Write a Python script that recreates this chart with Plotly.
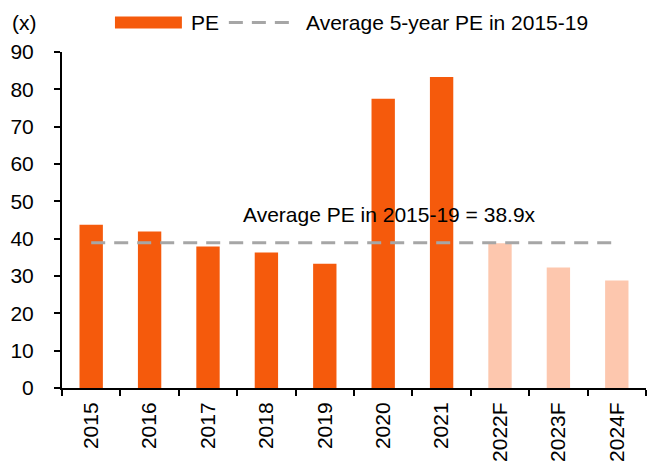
import plotly.graph_objects as go

years = ["2015", "2016", "2017", "2018", "2019", "2020", "2021", "2022F", "2023F", "2024F"]
pe = [43.7, 41.9, 37.9, 36.3, 33.3, 77.5, 83.3, 38.8, 32.3, 28.8]
is_forecast = [False] * 7 + [True] * 3
avg_pe = 38.9
avg_label = "Average PE in 2015-19 = 38.9x"

ORANGE = "#F55A0C"
PEACH = "#FDC7AE"
GREY = "#A6A6A6"
FONT = "Liberation Sans, Arial, sans-serif"
FS = 21

OFF = 8  # page body margin
W, H = 661 - OFF, 461 - OFF
ML, MR, MT, MB = 62 - OFF, 14.5, 51.5 - OFF, 73.3
PW, PH = W - ML - MR, H - MT - MB


def px(x):
    return (x - OFF - ML) / PW


def py(y):
    return 1 - (y - OFF - MT) / PH


fig = go.Figure()
fig.add_trace(go.Bar(
    x=years, y=pe,
    marker=dict(color=[PEACH if f else ORANGE for f in is_forecast], line=dict(width=0)),
    width=0.4, showlegend=False, hoverinfo="x+y",
))
fig.add_trace(go.Scatter(
    x=years, y=[avg_pe] * len(years), mode="lines",
    line=dict(color=GREY, width=3, dash="14px,9px"),
    showlegend=False,
))

shapes = [
    dict(type="rect", xref="paper", yref="paper", x0=px(115), x1=px(182), y0=py(28), y1=py(16),
         fillcolor=ORANGE, line=dict(width=0)),
    dict(type="line", xref="paper", yref="paper", x0=px(229), x1=px(297), y0=py(22), y1=py(22),
         line=dict(color=GREY, width=3, dash="14px,9px")),
]
annotations = [
    dict(text="PE", xref="paper", yref="paper", x=px(189), y=py(22), xanchor="left", yanchor="middle",
         showarrow=False, font=dict(size=FS, color="black", family=FONT)),
    dict(text="Average 5-year PE in 2015-19", xref="paper", yref="paper", x=px(304), y=py(22),
         xanchor="left", yanchor="middle", showarrow=False, font=dict(size=FS, color="black", family=FONT)),
    dict(text="(x)", xref="paper", yref="paper", x=px(10), y=py(22), xanchor="left", yanchor="middle",
         showarrow=False, font=dict(size=FS, color="black", family=FONT)),
    dict(text=avg_label, xref="paper", yref="paper", x=px(389.5), y=py(214), xanchor="center",
         yanchor="middle", showarrow=False, font=dict(size=FS, color="black", family=FONT)),
]

fig.update_layout(
    width=W, height=H,
    margin=dict(l=ML, r=MR, t=MT, b=MB, pad=0, autoexpand=False),
    paper_bgcolor="white", plot_bgcolor="white",
    font=dict(family=FONT, size=FS, color="black"),
    shapes=shapes, annotations=annotations,
    bargap=0.6,
)
fig.update_xaxes(
    type="category", showline=True, linecolor="black", linewidth=2, automargin=False,
    ticks="outside", tickson="boundaries", ticklen=6, tickwidth=2, tickcolor="black",
    tickangle=-90, showgrid=False, zeroline=False, ticklabelstandoff=4,
    tickfont=dict(size=FS, family=FONT, color="black"),
)
fig.update_yaxes(
    range=[0, 90], dtick=10, tick0=0, showline=True, linecolor="black", linewidth=2, automargin=False,
    ticks="outside", ticklen=6, tickwidth=2, tickcolor="black",
    showgrid=False, zeroline=False, ticklabelstandoff=16,
    tickfont=dict(size=FS, family=FONT, color="black"),
)

fig.write_html("out.html")
